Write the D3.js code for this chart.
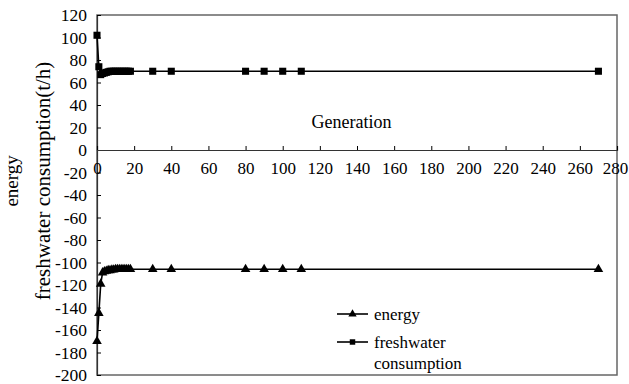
<!DOCTYPE html>
<html>
<head>
<meta charset="utf-8">
<script src="https://cdn.jsdelivr.net/npm/d3@7"></script>
<style>
  body { margin: 0; background: #fff; }
  svg text { font-family: "Liberation Serif", "Times New Roman", serif; fill: #000; }
</style>
</head>
<body>
<div id="chart"></div>
<script>
// generation numbers where a point was recorded
var generations = [0, 1, 2, 3, 4, 5, 6, 7, 8, 9, 10, 11, 12, 13, 14, 15, 16, 17, 18, 30, 40, 80, 90, 100, 110, 270];
// freshwater consumption (t/h)
var freshwater = [102, 74, 67, 68, 68.5, 69, 69.5, 70, 70, 70, 70, 70, 70, 70, 70, 70, 70, 70, 70, 70, 70, 70, 70, 70, 70, 70];
// energy
var energy = [-170, -145, -119, -109, -108, -107.5, -107, -107, -106.5, -106.5, -106, -106, -106, -106, -106, -106, -106, -106, -106, -106, -106, -106, -106, -106, -106, -106];

var xTicks = d3.range(0, 281, 20);
var yTicks = d3.range(-200, 121, 20);

var margin = {top: 15, right: 12, bottom: 9, left: 97},
    width = 629 - margin.left - margin.right,
    height = 384 - margin.top - margin.bottom;

var svg = d3.select("#chart").append("svg")
    .attr("width", 629)
    .attr("height", 384)
    .append("g")
    .attr("transform", "translate(" + margin.left + "," + margin.top + ")");

var x = d3.scaleLinear().domain([0, 280]).range([0, width]);
var y = d3.scaleLinear().domain([-200, 120]).range([height, 0]);

// plot frame
svg.append("rect")
    .attr("x", 0).attr("y", 0)
    .attr("width", width).attr("height", height)
    .style("fill", "none")
    .style("stroke", "#666")
    .style("stroke-width", 1.5);

// plain hyphen minus like the original
var fmt = function (d) { return String(d); };

// y axis, ticks pointing inward
var yAxis = svg.append("g")
    .call(d3.axisLeft(y).tickValues(yTicks).tickSize(-4).tickPadding(10).tickFormat(fmt));
yAxis.attr("font-family", "Liberation Serif").attr("font-size", 17.5);
yAxis.select(".domain").attr("stroke", "#333").attr("stroke-width", 1.2);

// x axis along y = 0, ticks pointing up
var xAxis = svg.append("g")
    .attr("transform", "translate(0," + y(0) + ")")
    .call(d3.axisBottom(x).tickValues(xTicks).tickSize(-4).tickPadding(12).tickFormat(fmt));
xAxis.attr("font-family", "Liberation Serif").attr("font-size", 17);
xAxis.select(".domain").attr("stroke", "#333").attr("stroke-width", 1.2);
// keep the last label inside the page
xAxis.selectAll(".tick text").filter(function (d) { return d === 280; }).attr("dx", -2);

svg.append("text")
    .attr("x", x(137))
    .attr("y", y(19.5))
    .attr("text-anchor", "middle")
    .style("font-size", "18px")
    .text("Generation");

// y axis title (two lines)
svg.append("text")
    .attr("transform", "translate(" + (18 - margin.left) + "," + y(-27.5) + ") rotate(-90)")
    .attr("text-anchor", "middle")
    .style("font-size", "19px")
    .text("energy");
svg.append("text")
    .attr("transform", "translate(" + (50 - margin.left) + "," + y(-27.5) + ") rotate(-90)")
    .attr("text-anchor", "middle")
    .style("font-size", "21px")
    .text("freshwater consumption(t/h)");

var series = [
    {name: "energy", values: energy, symbol: d3.symbolTriangle, size: 40},
    {name: "freshwater", values: freshwater, symbol: d3.symbolSquare, size: 50}
];

var line = d3.line()
    .x(function (d, i) { return x(generations[i]); })
    .y(function (d) { return y(d); });

series.forEach(function (s) {
    svg.append("path")
        .datum(s.values)
        .attr("d", line)
        .style("fill", "none")
        .style("stroke", "#000")
        .style("stroke-width", 1.6);

    svg.selectAll(null)
        .data(s.values)
        .enter()
        .append("path")
        .attr("d", d3.symbol().type(s.symbol).size(s.size))
        .attr("transform", function (d, i) {
            return "translate(" + x(generations[i]) + "," + y(d) + ")";
        })
        .style("fill", "#000");
});

// legend
var legend = svg.append("g").attr("transform", "translate(" + (337 - margin.left) + "," + (314 - margin.top) + ")");
var legendItems = [
    {label: ["energy"], symbol: d3.symbolTriangle, size: 30},
    {label: ["freshwater", "consumption"], symbol: d3.symbolSquare, size: 30}
];
legendItems.forEach(function (item, k) {
    var g = legend.append("g").attr("transform", "translate(0," + (k * 28) + ")");
    g.append("line")
        .attr("x1", 0).attr("x2", 31)
        .attr("y1", 0).attr("y2", 0)
        .style("stroke", "#000").style("stroke-width", 1.6);
    g.append("path")
        .attr("d", d3.symbol().type(item.symbol).size(item.size))
        .attr("transform", "translate(15.5,0)")
        .style("fill", "#000");
    item.label.forEach(function (t, j) {
        g.append("text")
            .attr("x", 37)
            .attr("y", j * 21 + 6)
            .style("font-size", "17px")
            .text(t);
    });
});
</script>
</body>
</html>
